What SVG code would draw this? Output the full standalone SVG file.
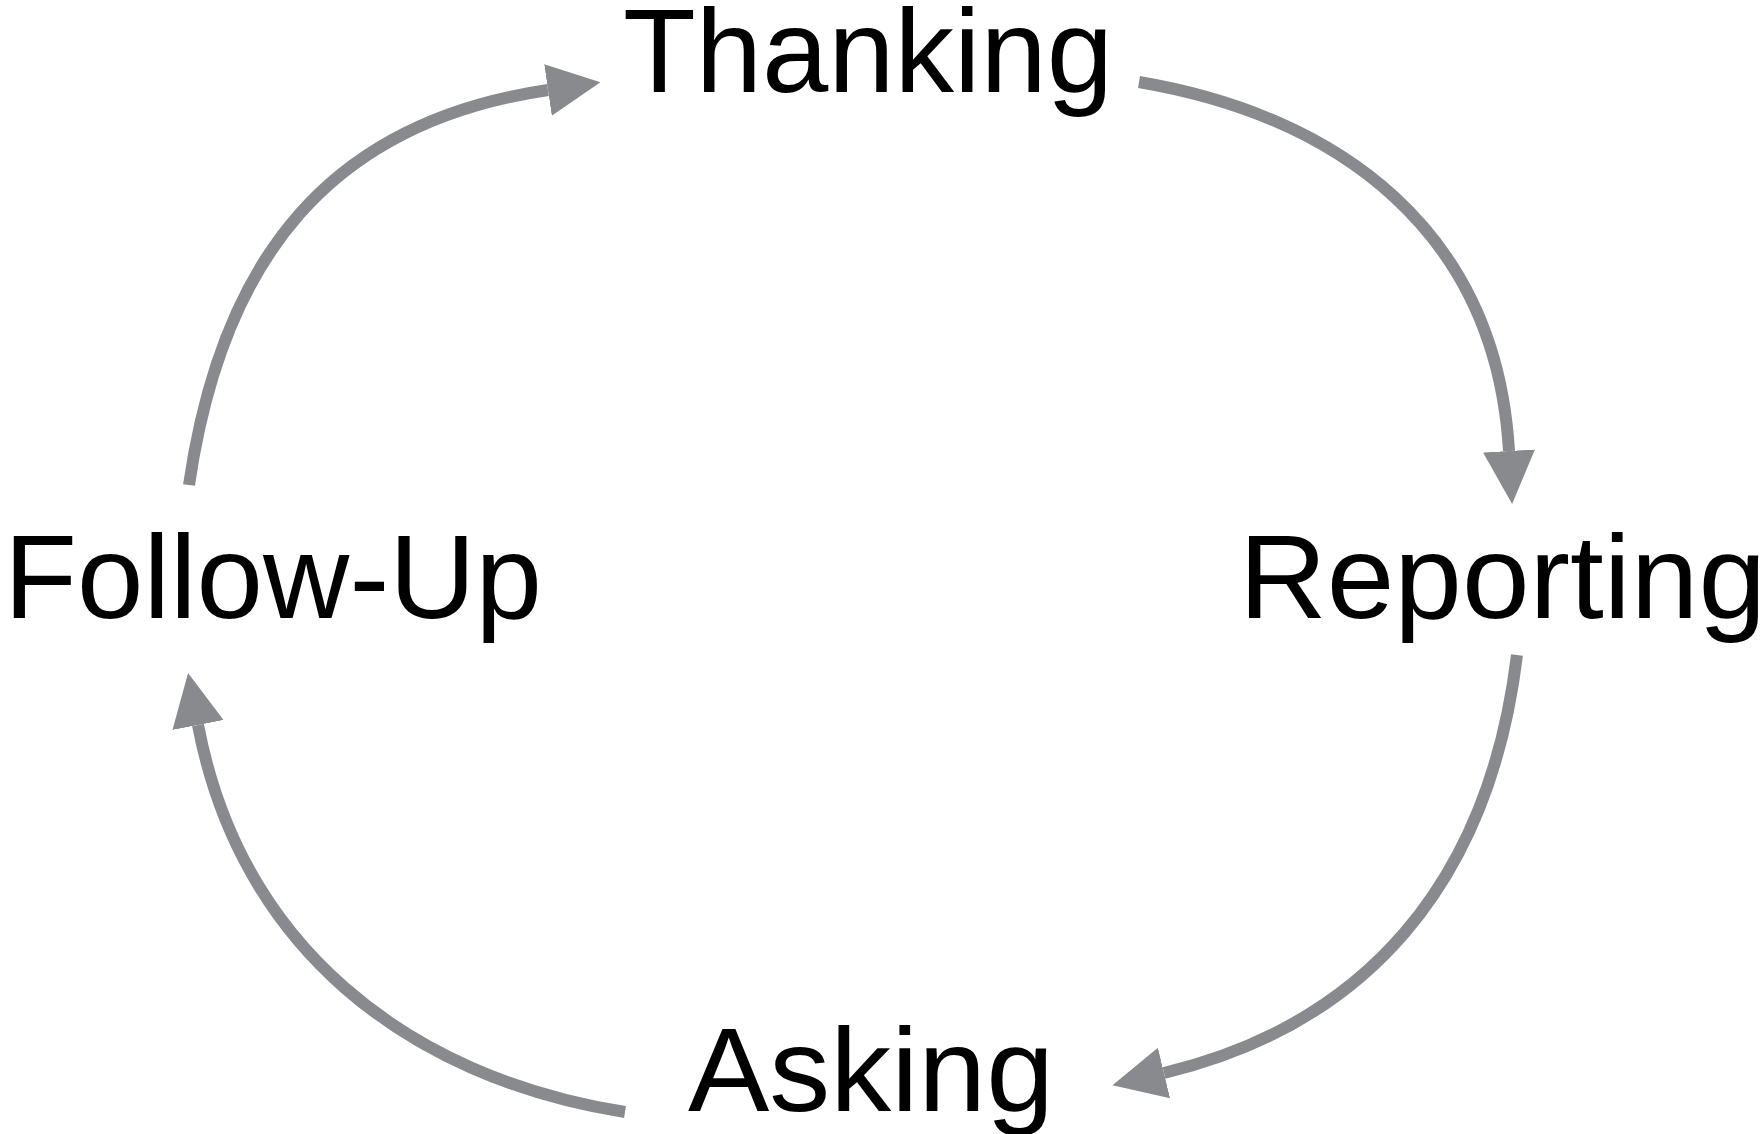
<svg xmlns="http://www.w3.org/2000/svg" width="1763" height="1134" viewBox="0 0 1763 1134">
  <style>
    .label { font-family: "Liberation Sans", Arial, sans-serif; font-size: 118px; fill: #000000; }
    .conn { fill: none; stroke: #888a8e; stroke-width: 12; marker-end: url(#arrow); }
  </style>
  <defs>
    <marker id="arrow" markerUnits="userSpaceOnUse" markerWidth="60" markerHeight="60" viewBox="0 -30 60 60" refX="0" refY="0" orient="auto">
      <path d="M0,-26 L53,0 L0,26 Z" fill="#888a8e"/>
    </marker>
  </defs>
  <rect width="1763" height="1134" fill="#ffffff"/>
  <g id="connectors">
    <path class="conn" d="M189,485 C222,258 330,122 548,90"/>
    <path class="conn" d="M1139,82 C1339,116 1496,231 1509,451"/>
    <path class="conn" d="M1517,655 C1489,885 1364,1025 1164,1073"/>
    <path class="conn" d="M625,1112 C405,1077 240,945 198,725"/>
  </g>
  <g id="thanking"><text class="label" x="623" y="92" textLength="490" lengthAdjust="spacingAndGlyphs">Thanking</text></g>
  <g id="reporting"><text class="label" x="1239" y="618" textLength="527" lengthAdjust="spacingAndGlyphs">Reporting</text></g>
  <g id="asking"><text class="label" x="688" y="1111" textLength="366" lengthAdjust="spacingAndGlyphs">Asking</text></g>
  <g id="follow-up"><text class="label" x="4" y="618" textLength="538" lengthAdjust="spacingAndGlyphs">Follow-Up</text></g>
</svg>
